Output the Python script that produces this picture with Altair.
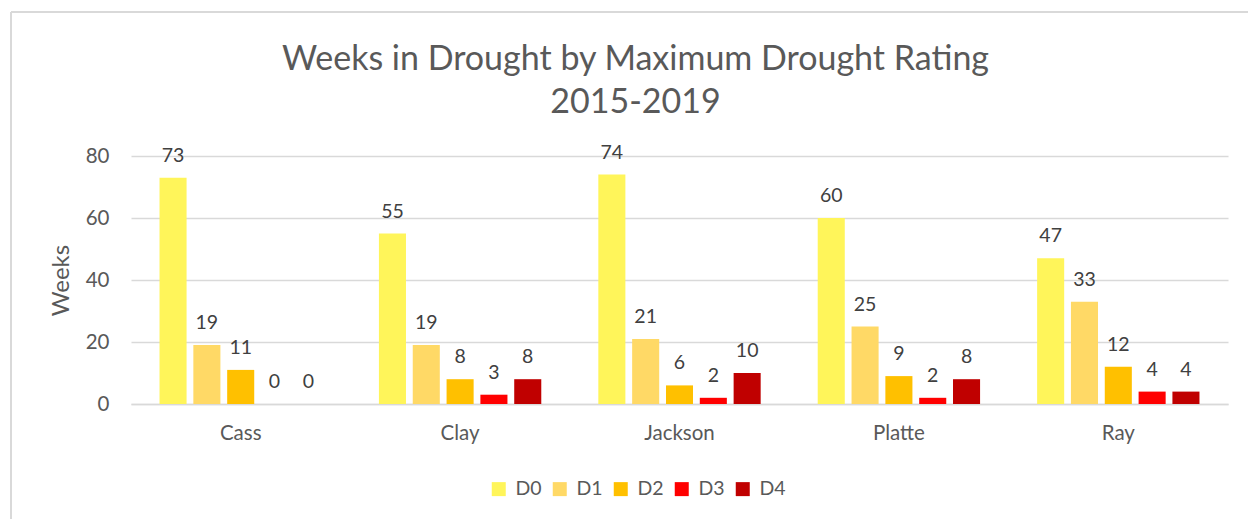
import altair as alt
import pandas as pd

counties = ["Cass", "Clay", "Jackson", "Platte", "Ray"]
ratings = ["D0", "D1", "D2", "D3", "D4"]
d0 = [73, 55, 74, 60, 47]
d1 = [19, 19, 21, 25, 33]
d2 = [11, 8, 6, 9, 12]
d3 = [0, 3, 2, 2, 4]
d4 = [0, 8, 10, 8, 4]
colors = ["#FFF55A", "#FFD966", "#FFC000", "#FF0000", "#C00000"]

rows = []
for r, vals in zip(ratings, [d0, d1, d2, d3, d4]):
    for c, v in zip(counties, vals):
        rows.append({"County": c, "Rating": r, "Weeks": v})
df = pd.DataFrame(rows)

FONT = "Lato"

x = alt.X("County:N", sort=counties, title=None,
          scale=alt.Scale(paddingInner=0.26, paddingOuter=0.13),
          axis=alt.Axis(labelAngle=0, labelFontSize=20.5, labelColor="#595959",
                        labelPadding=19, ticks=False, domainColor="#d9d9d9",
                        domainWidth=1.5, labelFont=FONT))
xo = alt.XOffset("Rating:N", sort=ratings,
                 scale=alt.Scale(paddingInner=0.2, paddingOuter=0.0))
y = alt.Y("Weeks:Q", scale=alt.Scale(domain=[0, 80]),
          axis=alt.Axis(values=[0, 20, 40, 60, 80], title="Weeks", titleFontSize=24,
                        titleColor="#595959", titleFontWeight="normal", titleFont=FONT,
                        labelFontSize=20.5, labelColor="#595959", labelPadding=22,
                        labelFont=FONT, ticks=False, domain=False,
                        gridColor="#d9d9d9", gridWidth=1.5, titlePadding=12))

base = alt.Chart(df)

bars = base.mark_bar().encode(
    x=x, xOffset=xo, y=y,
    color=alt.Color("Rating:N", sort=ratings,
                    scale=alt.Scale(domain=ratings, range=colors),
                    legend=alt.Legend(title=None, orient="none", direction="horizontal",
                                      legendX=358, legendY=323, symbolType="square",
                                      symbolSize=196, symbolStrokeWidth=0,
                                      labelFontSize=19.5, labelColor="#595959",
                                      labelFont=FONT, columnPadding=8, labelOffset=7)),
)

labels = base.mark_text(baseline="alphabetic", dy=-16, fontSize=19.5,
                        color="#404040", font=FONT).encode(
    x=x, xOffset=xo, y=y, text="Weeks:Q"
)

frame_top = alt.Chart(pd.DataFrame({"a": [0]})).mark_rule(color="#d9d9d9", strokeWidth=2).encode(
    x=alt.value(-120), x2=alt.value(1120), y=alt.value(-144)
)
frame_left = alt.Chart(pd.DataFrame({"a": [0]})).mark_rule(color="#d9d9d9", strokeWidth=2).encode(
    x=alt.value(-120), y=alt.value(-144), y2=alt.value(370)
)

chart = alt.layer(frame_top, frame_left, bars, labels).properties(
    width=1097, height=248,
    autosize=alt.AutoSizeParams(type="none"),
    padding={"left": 131, "top": 156, "right": 20, "bottom": 115},
    title=alt.TitleParams(["Weeks in Drought by Maximum Drought Rating", "2015-2019"],
                          fontSize=34, font=FONT, fontWeight="normal", color="#595959",
                          anchor="middle", dx=-44, offset=-109, lineHeight=43),
).configure_view(stroke=None)

chart.save("out.html", embed_options={"renderer": "svg", "actions": False})
